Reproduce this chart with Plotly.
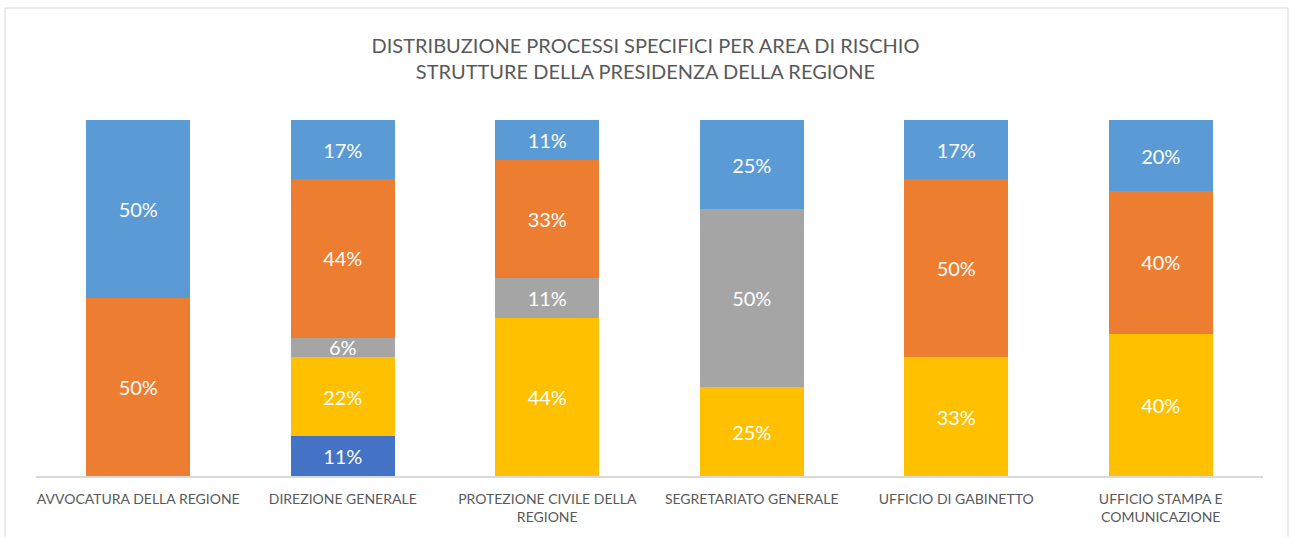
import plotly.graph_objects as go

categories = ["AVVOCATURA DELLA REGIONE", "DIREZIONE GENERALE", "PROTEZIONE CIVILE DELLA<br>REGIONE",
              "SEGRETARIATO GENERALE", "UFFICIO DI GABINETTO", "UFFICIO STAMPA E<br>COMUNICAZIONE"]

# percentages, bottom to top
s_darkblue = [None, 11.1, None, None, None, None]
s_yellow = [None, 22.2, 44.4, 25, 33.3, 40]
s_gray = [None, 5.6, 11.1, 50, None, None]
s_orange = [50, 44.4, 33.3, None, 50, 40]
s_lightblue = [50, 16.7, 11.1, 25, 16.7, 20]

series = [
    ("Area 1", s_darkblue, "#4472C4"),
    ("Area 2", s_yellow, "#FFC000"),
    ("Area 3", s_gray, "#A5A5A5"),
    ("Area 4", s_orange, "#ED7D31"),
    ("Area 5", s_lightblue, "#5B9BD5"),
]

W, H = 1291, 537
ml, mr, mt, mb = 36, 28, 120, 61

fig = go.Figure()
for name, vals, col in series:
    fig.add_trace(go.Bar(
        x=categories, y=vals, name=name, marker=dict(color=col, line=dict(width=0)),
        texttemplate="%{y:.0f}%", textposition="inside", insidetextanchor="middle",
        textfont=dict(color="white", size=20, family="Lato"), textangle=0,
        constraintext="none", hoverinfo="skip",
    ))

pw = W - ml - mr
ph = H - mt - mb
def px_x(x):
    return (x - ml) / pw
def px_y(y):
    return (H - mb - y) / ph

fig.update_layout(
    width=W, height=H, barmode="stack", bargap=0.49,
    margin=dict(l=ml, r=mr, t=mt, b=mb),
    paper_bgcolor="white", plot_bgcolor="white", showlegend=False,
    font=dict(family="Lato", color="#595959"),
    title=dict(text="DISTRIBUZIONE PROCESSI SPECIFICI PER AREA DI RISCHIO<br>STRUTTURE DELLA PRESIDENZA DELLA REGIONE",
               x=0.5, xanchor="center", y=1 - 53 / H, yanchor="top",
               font=dict(size=20, color="#595959", family="Lato")),
    xaxis=dict(showgrid=False, showline=True, linecolor="#D9D9D9", linewidth=1.5,
               tickfont=dict(size=14, color="#595959", family="Lato"), ticks="", ticklabelstandoff=9),
    yaxis=dict(range=[0, 100], visible=False),
    uniformtext=dict(minsize=10, mode="show"),
    shapes=[dict(type="rect", xref="paper", yref="paper",
                 x0=px_x(5), x1=px_x(1288), y0=px_y(545), y1=px_y(8),
                 line=dict(color="#D9D9D9", width=1), fillcolor="rgba(0,0,0,0)", layer="below")],
)

fig.write_html("out.html", config={"displayModeBar": False},
               post_script="document.body.style.margin='0';document.body.style.overflow='hidden';")
